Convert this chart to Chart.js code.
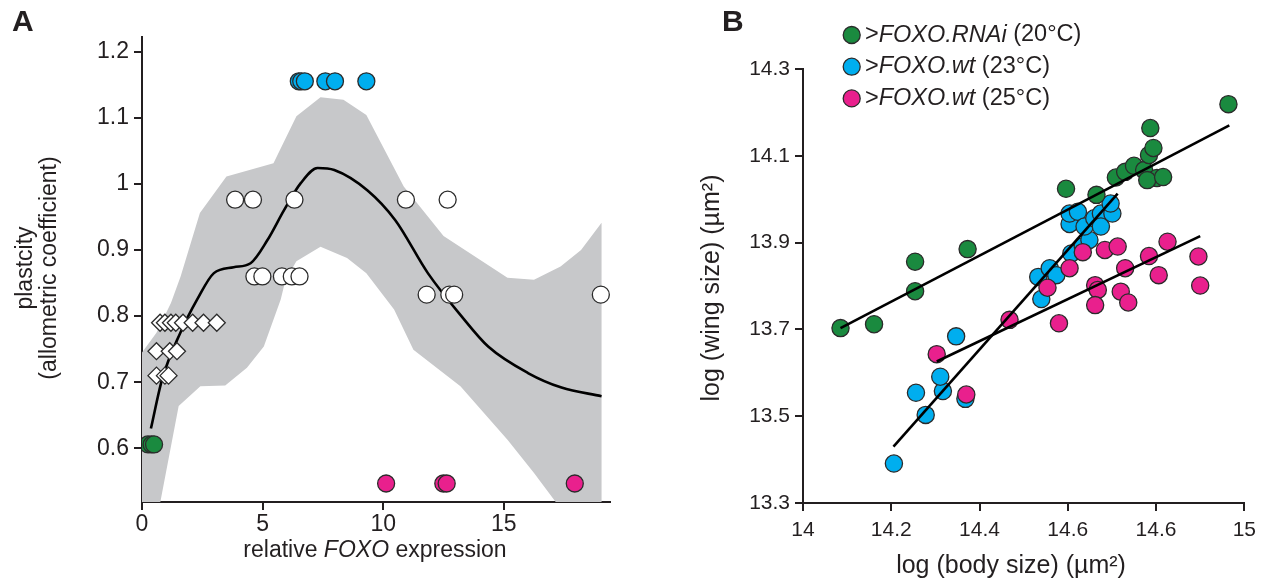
<!DOCTYPE html>
<html>
<head>
<meta charset="utf-8">
<script src="https://cdn.jsdelivr.net/npm/chart.js@4.4.1/dist/chart.umd.min.js"></script>
<style>
  html, body { margin: 0; padding: 0; background: #fff; }
  #wrap { position: relative; width: 1263px; height: 582px; overflow: hidden; }
  #chartA { position: absolute; left: 0; top: 0; }
  #chartB { position: absolute; left: 640px; top: 0; }
</style>
</head>
<body>
<div id="wrap">
  <canvas id="chartA" width="640" height="582"></canvas>
  <canvas id="chartB" width="623" height="582"></canvas>
</div>
<script>
// ---------- panel A : plasticity vs FOXO expression ----------
var xTicksA = [0, 5, 10, 15];
var yTicksA = [0.6, 0.7, 0.8, 0.9, 1, 1.1, 1.2];

var rnaiAX = [0.25, 0.4, 0.5];
var rnaiAY = [0.606, 0.606, 0.606];

var diamondX = [0.75, 0.95, 1.2, 1.4, 1.7, 2.1, 2.55, 3.1, 0.6, 1.15, 1.45, 0.6, 0.95, 1.1];
var diamondY = [0.79, 0.79, 0.79, 0.79, 0.79, 0.79, 0.79, 0.79, 0.747, 0.747, 0.747, 0.71, 0.71, 0.71];

var openX = [3.86, 4.6, 6.32, 10.94, 12.67, 4.66, 4.99, 5.8, 6.21, 6.53, 11.8, 12.74, 12.94, 19.02];
var openY = [0.976, 0.976, 0.976, 0.976, 0.976, 0.86, 0.86, 0.86, 0.86, 0.86, 0.8325, 0.8325, 0.8325, 0.8325];

var wt23AX = [6.5, 6.6, 6.75, 7.6, 8.0, 9.3];
var wt23AY = [1.155, 1.155, 1.155, 1.155, 1.155, 1.155];

var wt25AX = [10.12, 12.49, 12.63, 17.94];
var wt25AY = [0.547, 0.547, 0.547, 0.547];

var curveX = [0.37, 0.83, 1.59, 2.3, 2.98, 3.8, 4.5, 5.2, 5.9, 6.58, 7.28, 7.97, 9.35, 10.5, 11.85, 13.24, 14.35, 16.0, 17.39, 19.05];
var curveY = [0.63, 0.704, 0.775, 0.826, 0.865, 0.874, 0.88, 0.915, 0.961, 1.001, 1.024, 1.021, 0.99, 0.945, 0.865, 0.8, 0.754, 0.714, 0.692, 0.679];

var bandUpperX = [0, 0.6, 1.2, 1.6, 2.4, 3.5, 5.45, 6.4, 7.4, 8.35, 9.3, 10.85, 12.5, 15.15, 16.25, 17.35, 18.2, 19.05];
var bandUpperY = [0.745, 0.775, 0.82, 0.86, 0.956, 1.011, 1.031, 1.102, 1.131, 1.127, 1.104, 0.996, 0.921, 0.858, 0.855, 0.875, 0.9, 0.941];
var bandLowerX = [0, 0.76, 1.52, 2.42, 3.45, 4.35, 5.05, 5.75, 5.95, 6.4, 7.4, 8.5, 9.3, 10.45, 11.25, 13.2, 15.15, 16.25, 17.15, 19.05];
var bandLowerY = [0.519, 0.519, 0.664, 0.694, 0.695, 0.722, 0.754, 0.825, 0.855, 0.883, 0.905, 0.888, 0.865, 0.81, 0.749, 0.694, 0.613, 0.563, 0.519, 0.519];

// ---------- panel B : wing size vs body size ----------
var xTicksB = [14, 14.2, 14.4, 14.6, 14.8, 15];
var xTickLabelsB = ['14', '14.2', '14.4', '14.6', '14.6', '15'];
var yTicksB = [13.3, 13.5, 13.7, 13.9, 14.1, 14.3];

var rnaiBX = [14.085, 14.161, 14.254, 14.254, 14.373, 14.596, 14.665, 14.709, 14.73, 14.75, 14.773, 14.784, 14.787, 14.794, 14.802, 14.78, 14.816, 14.964];
var rnaiBY = [13.703, 13.712, 13.856, 13.788, 13.885, 14.024, 14.01, 14.05, 14.063, 14.077, 14.067, 14.102, 14.164, 14.118, 14.049, 14.044, 14.051, 14.219];

var wt23BX = [14.206, 14.278, 14.256, 14.317, 14.368, 14.311, 14.347, 14.533, 14.54, 14.559, 14.574, 14.608, 14.634, 14.649, 14.604, 14.604, 14.623, 14.638, 14.66, 14.675, 14.675, 14.701, 14.697];
var wt23BY = [13.391, 13.503, 13.554, 13.558, 13.54, 13.591, 13.684, 13.821, 13.77, 13.841, 13.825, 13.875, 13.891, 13.906, 13.943, 13.967, 13.971, 13.937, 13.956, 13.967, 13.937, 13.967, 13.99];

var wt25BX = [14.303, 14.37, 14.468, 14.554, 14.58, 14.604, 14.634, 14.684, 14.713, 14.73, 14.784, 14.826, 14.896, 14.806, 14.9, 14.662, 14.668, 14.662, 14.72, 14.737];
var wt25BY = [13.643, 13.55, 13.722, 13.796, 13.714, 13.841, 13.878, 13.883, 13.891, 13.841, 13.869, 13.902, 13.868, 13.825, 13.801, 13.802, 13.791, 13.756, 13.787, 13.762];

var rnaiFitX = [14.085, 14.966];
var rnaiFitY = [13.703, 14.17];
var wt23FitX = [14.205, 14.713];
var wt23FitY = [13.43, 14.013];
var wt25FitX = [14.303, 14.9];
var wt25FitY = [13.626, 13.915];

// ---------- styling ----------
var fontFamily = '"Liberation Sans", Arial, Helvetica, sans-serif';
var ink = '#231f20';
var green = '#1a8a3f';
var blue = '#00aeef';
var pink = '#e9208d';
var band = '#c7c8ca';
var edge = '#2b2b2b';

function pts(xs, ys) {
  return xs.map(function (x, i) { return { x: x, y: ys[i] }; });
}

function dots(xs, ys, fill, radius, order, style) {
  return {
    data: pts(xs, ys),
    pointStyle: style || 'circle',
    pointRadius: radius,
    pointBackgroundColor: fill,
    pointBorderColor: edge,
    pointBorderWidth: 1.3,
    order: order
  };
}

function line(xs, ys, order) {
  return {
    type: 'line',
    data: pts(xs, ys),
    borderColor: '#000',
    borderWidth: 2.6,
    pointRadius: 0,
    fill: false,
    order: order
  };
}

function axis(min, max, tickValues, size, pad, boxSize, isX, labels) {
  return {
    type: 'linear',
    min: min,
    max: max,
    afterBuildTicks: function (s) {
      s.ticks = tickValues.map(function (v) { return { value: v }; });
    },
    afterFit: function (s) {
      if (isX) s.height = boxSize; else s.width = boxSize;
    },
    grid: { drawOnChartArea: false, drawTicks: true, tickLength: 8, color: ink, lineWidth: 2 },
    border: { color: ink, width: 2 },
    ticks: {
      color: ink,
      font: { family: fontFamily, size: size },
      padding: pad,
      maxRotation: 0,
      autoSkip: false,
      callback: function (v, i) { return labels ? labels[i] : String(v); }
    }
  };
}

// text with italic parts: runs = [[text, italic], ...]
function drawRuns(ctx, runs, x, y, size, align) {
  var widths = runs.map(function (r) {
    ctx.font = (r[1] ? 'italic ' : '') + size + 'px ' + fontFamily;
    return ctx.measureText(r[0]).width;
  });
  var total = widths.reduce(function (a, b) { return a + b; }, 0);
  var cx = align === 'center' ? x - total / 2 : x;
  ctx.textBaseline = 'middle';
  ctx.textAlign = 'left';
  runs.forEach(function (r, i) {
    ctx.font = (r[1] ? 'italic ' : '') + size + 'px ' + fontFamily;
    ctx.fillText(r[0], cx, y);
    cx += widths[i];
  });
}

function drawRotated(ctx, runs, x, y, size) {
  ctx.save();
  ctx.translate(x, y);
  ctx.rotate(-Math.PI / 2);
  drawRuns(ctx, runs, 0, 0, size, 'center');
  ctx.restore();
}

var baseOptions = {
  responsive: false,
  animation: false,
  events: [],
  plugins: { legend: { display: false }, tooltip: { enabled: false } }
};

// ---------- chart A ----------
var bandShapeX = bandUpperX.concat(bandLowerX.slice().reverse());
var bandShapeY = bandUpperY.concat(bandLowerY.slice().reverse());

var textA = {
  id: 'textA',
  afterDraw: function (chart) {
    var ctx = chart.ctx;
    ctx.save();
    ctx.fillStyle = ink;
    ctx.font = 'bold 30px ' + fontFamily;
    ctx.textBaseline = 'alphabetic';
    ctx.fillText('A', 12, 31);
    drawRuns(ctx, [['relative ', false], ['FOXO', true], [' expression', false]], 375, 551, 23, 'center');
    drawRotated(ctx, [['plastcity', false]], 26, 268, 23);
    drawRotated(ctx, [['(allometric coefficient)', false]], 50, 268, 23);
    ctx.restore();
  }
};

new Chart(document.getElementById('chartA'), {
  type: 'scatter',
  data: {
    datasets: [
      {
        type: 'line',
        data: pts(bandShapeX, bandShapeY),
        backgroundColor: band,
        borderWidth: 0,
        pointRadius: 0,
        tension: 0,
        fill: 'shape',
        order: 10
      },
      Object.assign(line(curveX, curveY, 8), { cubicInterpolationMode: 'monotone' }),
      dots(diamondX, diamondY, '#fff', 8.5, 6, 'rectRot'),
      dots(openX, openY, '#fff', 8.5, 5),
      dots(rnaiAX, rnaiAY, green, 8.5, 4),
      dots(wt23AX, wt23AY, blue, 8.5, 3),
      dots(wt25AX, wt25AY, pink, 8.5, 2)
    ]
  },
  options: Object.assign({}, baseOptions, {
    layout: { padding: { left: 0, right: 30, top: 37, bottom: 0 } },
    scales: {
      x: axis(0, 19.4, xTicksA, 23, 1, 80, true),
      y: axis(0.519, 1.222, yTicksA, 23, 5, 142, false)
    }
  }),
  plugins: [textA]
});

// ---------- chart B ----------
var legendB = [
  { color: green, runs: [['>', false], ['FOXO.RNAi', true], [' (20\u00b0C)', false]] },
  { color: blue, runs: [['>', false], ['FOXO.wt', true], [' (23\u00b0C)', false]] },
  { color: pink, runs: [['>', false], ['FOXO.wt', true], [' (25\u00b0C)', false]] }
];

var textB = {
  id: 'textB',
  afterDraw: function (chart) {
    var ctx = chart.ctx;
    ctx.save();
    ctx.fillStyle = ink;
    ctx.font = 'bold 30px ' + fontFamily;
    ctx.textBaseline = 'alphabetic';
    ctx.fillText('B', 82, 31);
    drawRuns(ctx, [['log (body size) (\u00b5m\u00b2)', false]], 371, 566, 25, 'center');
    drawRotated(ctx, [['log (wing size) (\u00b5m\u00b2)', false]], 72, 288, 25);
    legendB.forEach(function (item, i) {
      var y = 35 + i * 31.7;
      ctx.beginPath();
      ctx.arc(211.7, y, 8.5, 0, Math.PI * 2);
      ctx.fillStyle = item.color;
      ctx.fill();
      ctx.lineWidth = 1.3;
      ctx.strokeStyle = edge;
      ctx.stroke();
      ctx.fillStyle = ink;
      drawRuns(ctx, item.runs, 225, y, 23.5, 'left');
    });
    ctx.restore();
  }
};

new Chart(document.getElementById('chartB'), {
  type: 'scatter',
  data: {
    datasets: [
      line(rnaiFitX, rnaiFitY, 1),
      line(wt23FitX, wt23FitY, 1),
      line(wt25FitX, wt25FitY, 1),
      dots(rnaiBX, rnaiBY, green, 8.6, 2),
      dots(wt25BX, wt25BY, pink, 8.6, 3),
      dots(wt23BX, wt23BY, blue, 8.6, 4)
    ]
  },
  options: Object.assign({}, baseOptions, {
    layout: { padding: { left: 0, right: 15, top: 69, bottom: 0 } },
    scales: {
      x: axis(14, 15, xTicksB, 21, 7, 79, true, xTickLabelsB),
      y: axis(13.3, 14.3, yTicksB, 21, 5, 163, false)
    }
  }),
  plugins: [textB]
});
</script>
</body>
</html>
